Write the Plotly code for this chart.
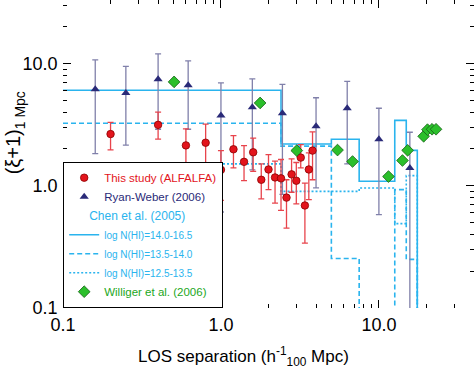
import numpy as np
import plotly.graph_objects as go

# ---- data ----
alf_x = [0.2, 0.4, 0.6, 0.8, 1.0, 1.2, 1.4, 1.6, 1.8, 2.0, 2.2, 2.4, 2.6, 2.8, 3.0, 3.2, 3.4, 3.6, 3.8]
alf_y = [2.65, 3.15, 2.14, 2.25, 1.35, 1.99, 1.57, 1.88, 1.12, 1.36, 1.17, 1.15, 0.80, 1.24, 1.10, 1.70, 0.69, 1.36, 1.94]
alf_hi = [3.30, 4.00, 2.92, 3.19, 1.94, 2.57, 2.13, 2.45, 1.51, 1.80, 1.59, 1.64, 1.12, 1.66, 1.55, 2.17, 1.05, 1.86, 2.76]
alf_lo = [1.97, 2.41, 1.36, 1.32, 0.76, 1.40, 1.10, 1.31, 0.78, 0.93, 0.72, 0.63, 0.45, 0.885, 0.71, 1.40, 0.34, 0.77, 1.12]

rw_x = [0.16, 0.25, 0.40, 0.62, 1.0, 1.58, 2.45, 4.0, 6.3, 10.0, 15.7]
rw_y = [6.15, 5.75, 7.45, 6.65, 3.75, 4.40, 3.92, 3.07, 4.31, 2.40, 1.40]
rw_hi = [10.7, 9.5, 12.0, 10.5, 6.95, 7.5, 6.75, 5.25, 7.15, 4.31, 2.74]
rw_lo = [1.83, 2.15, 2.9, 2.9, 0.61, 1.35, 0.85, 0.96, 1.51, 0.58, 0.01]

wil_x = [0.505, 1.77, 3.02, 5.47, 6.81, 11.5, 14.1, 15.2, 19.2, 20.3, 21.7, 23.0]
wil_y = [7.08, 4.76, 1.94, 1.96, 1.58, 1.19, 1.61, 1.95, 2.54, 2.88, 2.90, 2.90]

chen_edges = [0.1, 2.4, 5.0, 7.5, 12.6, 14.9, 17.5]
chen_140_165 = [6.05, 2.20, 2.40, 1.09, 3.43, 1.95, 0.0]
chen_135_140 = [3.25, 2.11, 0.254, 0.0, 0.93, 0.25, 0.0]
chen_125_135 = [1.51, 0.90, 0.90, 0.96, 0.49, 1.21, 0.0]

x_ticks = [0.1, 1.0, 10.0]
x_ticklabels = ["0.1", "1.0", "10.0"]
y_ticks = [0.1, 1.0, 10.0]
y_ticklabels = ["0.1", "1.0", "10.0"]

RED = "#e3141c"
NAVY = "#2a2a78"
NAVY_ERR = "#8080aa"
CYAN = "#2ab4ee"
GREEN = "#2bbf2b"
GREEN_TXT = "#22a722"
FONT = "Liberation Sans, Arial, sans-serif"

FLOOR = 1e-3  # zero values drawn below the axis


def floor(v):
    return list(np.maximum(np.array(v, dtype=float), FLOOR))


fig = go.Figure()

a_y = np.array(alf_y)
fig.add_trace(go.Scatter(
    x=alf_x, y=alf_y, mode="markers", name=f'<span style="color:{RED}">This study (ALFALFA)</span>',
    marker=dict(symbol="circle", size=7.5, color=RED, line=dict(color="#8a0000", width=0.8)),
    error_y=dict(type="data", symmetric=False, array=list(np.array(alf_hi) - a_y),
                 arrayminus=list(a_y - np.array(alf_lo)), color="#e8444c", thickness=1.3, width=3),
    legendrank=1, zorder=3))

r_y = np.array(rw_y)
fig.add_trace(go.Scatter(
    x=rw_x, y=rw_y, mode="markers", name=f'<span style="color:{NAVY}">Ryan-Weber (2006)</span>',
    marker=dict(symbol="triangle-up", size=8, color=NAVY, line=dict(width=0)),
    error_y=dict(type="data", symmetric=False, array=list(np.array(rw_hi) - r_y),
                 arrayminus=list(r_y - np.array(rw_lo)), color=NAVY_ERR, thickness=1.3, width=3),
    legendrank=2, zorder=2))

for vals, dash, label, rank in [
    (chen_140_165, "solid", "log N(HI)=14.0-16.5", 3),
    (chen_135_140, "5px,3px", "log N(HI)=13.5-14.0", 4),
    (chen_125_135, "2px,2px", "log N(HI)=12.5-13.5", 5),
]:
    fig.add_trace(go.Scatter(
        x=chen_edges, y=floor(vals), mode="lines", line_shape="hv",
        line=dict(color=CYAN, width=1.6, dash=dash),
        name=f'<span style="color:{CYAN};font-size:10px">{label}</span>',
        legendgroup="chen",
        legendgrouptitle=dict(text="\u00a0\u00a0\u00a0\u00a0\u00a0\u00a0Chen et al. (2005)",
                              font=dict(color=CYAN, size=12)),
        legendrank=rank, zorder=1))

fig.add_trace(go.Scatter(
    x=wil_x, y=wil_y, mode="markers", name=f'<span style="color:{GREEN_TXT}">Williger et al. (2006)</span>',
    marker=dict(symbol="diamond", size=9, color=GREEN, line=dict(color="#156015", width=0.8)),
    legendrank=6, zorder=4))

axis_common = dict(
    type="log", showgrid=False, zeroline=False,
    showline=True, linecolor="black", linewidth=1.5, mirror="ticks",
    ticks="inside", ticklen=8, tickwidth=1.3, tickcolor="black",
    tickfont=dict(size=18, color="black", family=FONT),
)

minor_x = [v * m for v in [0.1, 1, 10] for m in range(2, 10)]
minor_y = [v * m for v in [0.1, 1, 10] for m in range(2, 10)]

fig.update_xaxes(**axis_common, range=[-1, np.log10(40)], tickvals=x_ticks, ticktext=x_ticklabels,
                 minor=dict(tickvals=minor_x, ticks="inside", ticklen=4, tickwidth=1, tickcolor="black"))
fig.update_yaxes(**axis_common, range=[-1, 1.52], tickvals=y_ticks, ticktext=y_ticklabels,
                 minor=dict(tickvals=minor_y, ticks="inside", ticklen=4, tickwidth=1, tickcolor="black"))

fig.add_annotation(text="LOS separation (h<sup>-1</sup><sub>100</sub> Mpc)", xref="paper", yref="paper",
                   x=0.44, y=-0.11, xanchor="center", yanchor="top", showarrow=False,
                   font=dict(size=17, color="black", family=FONT))
fig.add_annotation(text="(ξ+1)<sub>1 Mpc</sub>", xref="paper", yref="paper",
                   x=-0.117, y=0.57, xanchor="center", yanchor="middle", textangle=-90, showarrow=False,
                   font=dict(size=20, color="black", family=FONT))

fig.update_layout(
    width=474, height=368,
    margin=dict(l=63, r=0, t=0, b=60, autoexpand=False),
    paper_bgcolor="white", plot_bgcolor="white",
    showlegend=True,
    legend=dict(x=0, y=0, xanchor="left", yanchor="bottom", bgcolor="white",
                bordercolor="black", borderwidth=1.2, traceorder="grouped", tracegroupgap=0,
                itemwidth=30,
                font=dict(size=11.5, family=FONT)),
    font=dict(family=FONT),
)

fig.write_html("out.html", config={"displayModeBar": False},
               post_script="document.body.style.margin='0';document.body.style.padding='0';")
